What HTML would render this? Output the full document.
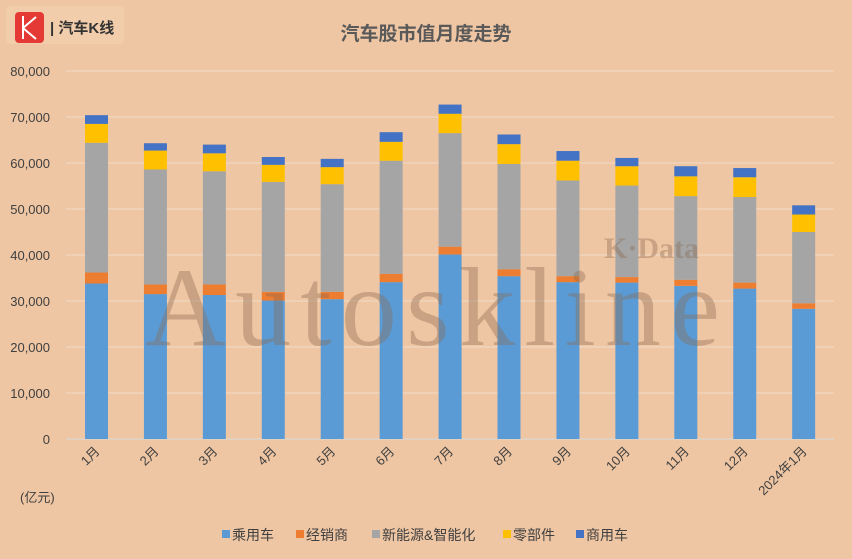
<!DOCTYPE html>
<html><head><meta charset="utf-8"><style>
html,body{margin:0;padding:0;}
body{width:852px;height:559px;background:#efc6a3;overflow:hidden;font-family:"Liberation Sans","Noto Sans CJK SC",sans-serif;}
</style></head><body>
<svg id="chart" width="852" height="559" xmlns="http://www.w3.org/2000/svg" style="position:absolute;left:0;top:0">
  <rect x="0" y="0" width="852" height="559" fill="#efc6a3"/>
  <g>
    <rect x="6" y="6" width="118" height="38" rx="4" fill="#f2cdab"/>
    <rect x="15" y="12" width="29" height="31" rx="4" fill="#e53935"/>
    <path d="M23 16 L23 39 M23 28 L36 17 M23 28 L36 39" stroke="#fff" stroke-width="2" fill="none"/>
    <text x="50" y="33" font-size="15" fill="#333" font-weight="bold">| 汽车K线</text>
  </g>
  <text x="426" y="40" text-anchor="middle" font-size="19" font-weight="bold" fill="#595959">汽车股市值月度走势</text>
  <g id="grid"></g>
  <g id="yticks"></g>
  <g id="bars"></g>
  <g id="xticks"></g>
  <text x="145" y="345" font-size="112" font-family="Liberation Serif,serif" fill="#8a6a50" opacity="0.38" textLength="575">Autoskline</text>
  <text x="604" y="258" font-size="30" font-weight="bold" font-family="Liberation Serif,serif" fill="#8a6a50" opacity="0.38">K·Data</text>
  <text x="20" y="502" font-size="13" fill="#404040">(亿元)</text>
  <g id="legend"></g>
</svg>
<script>
const categories=["1月","2月","3月","4月","5月","6月","7月","8月","9月","10月","11月","12月","2024年1月"];
const seriesNames=["乘用车","经销商","新能源&智能化","零部件","商用车"];
const passenger=[33800,31500,31300,30100,30400,34100,40100,35400,34100,34000,33300,32700,28300];
const dealer=[2400,2100,2300,1900,1600,1800,1700,1500,1300,1200,1300,1300,1200];
const nev=[28200,25000,24600,23900,23400,24600,24700,22900,20800,19900,18200,18600,15500];
const parts=[4100,4100,3900,3700,3700,4100,4200,4300,4300,4200,4300,4300,3800];
const commercial=[1900,1600,1900,1700,1800,2100,2000,2100,2100,1800,2200,2000,2000];
const yTicks=[0,10000,20000,30000,40000,50000,60000,70000,80000];
const colors=["#5b9bd5","#ed7d31","#a5a5a5","#ffc000","#4472c4"];
const NS="http://www.w3.org/2000/svg";
const y0=439,yMax=80000,plotH=368,x0=66,x1=834;
function ys(v){return y0-v/yMax*plotH;}
function xs(i){return 96.5+i*58.93;}
function mk(t,a,p){const e=document.createElementNS(NS,t);for(const k in a)e.setAttribute(k,a[k]);p.appendChild(e);return e;}
const grid=document.getElementById('grid'),yt=document.getElementById('yticks');
yTicks.forEach(v=>{
  const l=mk('line',{x1:x0,x2:x1,y1:ys(v),y2:ys(v),stroke:v===0?'#d9d9d9':'#f3dcc8','stroke-width':1},grid);
  
  
  const t=mk('text',{x:50,y:ys(v)+5,'text-anchor':'end','font-size':13,fill:'#404040'},yt);
  t.textContent=v.toLocaleString('en-US');
  
  
});
const series=[passenger,dealer,nev,parts,commercial];
const bars=document.getElementById('bars'),xt=document.getElementById('xticks');
categories.forEach((c,i)=>{
  let acc=0;
  series.forEach((s,k)=>{
    const r=mk('rect',{x:xs(i)-11.5,width:23,y:ys(acc+s[i]),height:ys(acc)-ys(acc+s[i]),fill:colors[k]},bars);
    
    
    acc+=s[i];
  });
  const t=mk('text',{x:xs(i)+4,y:452,'text-anchor':'end','font-size':13,fill:'#404040',transform:`rotate(-45 ${xs(i)+4} 452)`},xt);
  t.textContent=c;
  
  
});
const lg=document.getElementById('legend');
const lx=[222,296,372,503,576];
seriesNames.forEach((n,k)=>{
  const r=mk('rect',{x:lx[k],y:530,width:8,height:8,fill:colors[k]},lg);
  
  
  const t=mk('text',{x:lx[k]+10,y:540,'font-size':14,fill:'#404040'},lg);
  t.textContent=n;
  
  
});
</script>
</body></html>
